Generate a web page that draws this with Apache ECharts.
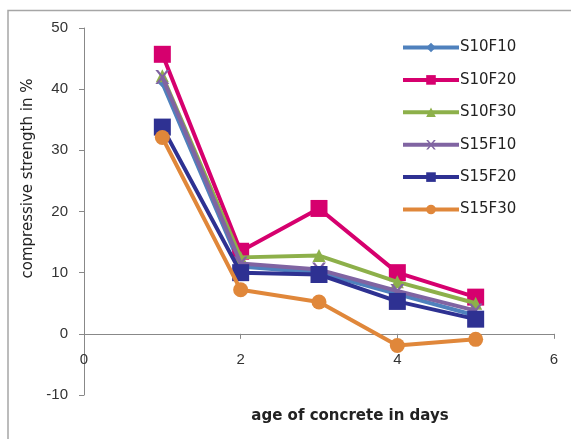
<!DOCTYPE html>
<html><head><meta charset="utf-8">
<script src="https://cdn.jsdelivr.net/npm/echarts@6/dist/echarts.min.js"></script>
<style>html,body{margin:0;padding:0;background:#fff}#c{width:571px;height:439px}</style>
</head><body><div id="c"></div>
<script>
const days = [1, 2, 3, 4, 5];
const seriesNames = ['S10F10', 'S10F20', 'S10F30', 'S15F10', 'S15F20', 'S15F30'];
const S10F10 = [41.0, 11.0, 10.0, 6.5, 3.0];
const S10F20 = [45.7, 13.5, 20.5, 10.0, 6.0];
const S10F30 = [42.2, 12.5, 12.8, 8.5, 5.0];
const S15F10 = [42.0, 11.5, 10.5, 7.0, 3.8];
const S15F20 = [33.8, 10.0, 9.7, 5.3, 2.4];
const S15F30 = [32.1, 7.2, 5.2, -1.9, -0.9];
const yTicks = [-10, 0, 10, 20, 30, 40, 50];
const xTicks = [0, 2, 4, 6];

const values = [S10F10, S10F20, S10F30, S15F10, S15F20, S15F30];
const colors = ['#4F81BD', '#D6006E', '#8DB04A', '#8064A2', '#2E3192', '#E0873A'];
const symbols = ['diamond', 'rect', 'triangle',
  'path://M0,0 L2,0 L5,3 L8,0 L10,0 L6,4 L10,8 L8,8 L5,5 L2,8 L0,8 L4,4 Z', 'rect', 'circle'];
const sizes = [9, 17, 13, 14, 17, 15];

const chart = echarts.init(document.getElementById('c'));
const font = 'Liberation Sans';
chart.setOption({
  animation: false,
  graphic: [{ type: 'polyline', shape: { points: [[8, 439], [8, 10.5], [571, 10.5]] },
    style: { stroke: '#a6a6a6', lineWidth: 1.5, fill: null } }],
  grid: { left: 84, right: 17, top: 28, bottom: 44, outerBoundsMode: 'none', containLabel: false },
  legend: {
    orient: 'vertical', left: 396, top: 35, itemGap: 17.4, itemWidth: 56, itemHeight: 12,
    data: seriesNames,
    lineStyle: { width: 4 },
    textStyle: { fontFamily: 'DejaVu Sans', fontSize: 15, color: '#222', padding: [0, 0, 0, -4] }
  },
  xAxis: {
    type: 'value', min: 0, max: 6, interval: 2,
    name: 'age of concrete in days', nameLocation: 'middle', nameGap: 14,
    nameTextStyle: { fontFamily: 'DejaVu Sans', fontSize: 15, fontWeight: 'bold', color: '#222', padding: [0, 0, 0, 62] },
    axisLine: { onZero: true, lineStyle: { color: '#888' } },
    axisTick: { show: true, length: 5, lineStyle: { color: '#888' } },
    axisLabel: { fontFamily: font, fontSize: 15, color: '#333', margin: -43,
      formatter: v => xTicks.includes(v) ? String(v) : '' },
    splitLine: { show: false }
  },
  yAxis: {
    type: 'value', min: -10, max: 50, interval: 10,
    name: 'compressive strength in %', nameLocation: 'middle', nameGap: 48,
    nameTextStyle: { fontFamily: 'DejaVu Sans', fontSize: 15, color: '#222', padding: [0, 0, 0, 66] },
    axisLine: { show: true, lineStyle: { color: '#888' } },
    axisTick: { show: true, length: 5, lineStyle: { color: '#888' } },
    axisLabel: { fontFamily: font, fontSize: 15, color: '#333', margin: 16,
      formatter: v => yTicks.includes(v) ? String(v) : '' },
    splitLine: { show: false }
  },
  series: seriesNames.map((n, i) => ({
    name: n, type: 'line',
    data: days.map((d, j) => [d, values[i][j]]),
    symbol: symbols[i], symbolSize: sizes[i], showAllSymbol: true,
    lineStyle: { width: 4, color: colors[i] },
    itemStyle: { color: colors[i], borderWidth: 0 },
    z: 2 + (i === 1 ? 0 : i)
  }))
});
</script></body></html>
